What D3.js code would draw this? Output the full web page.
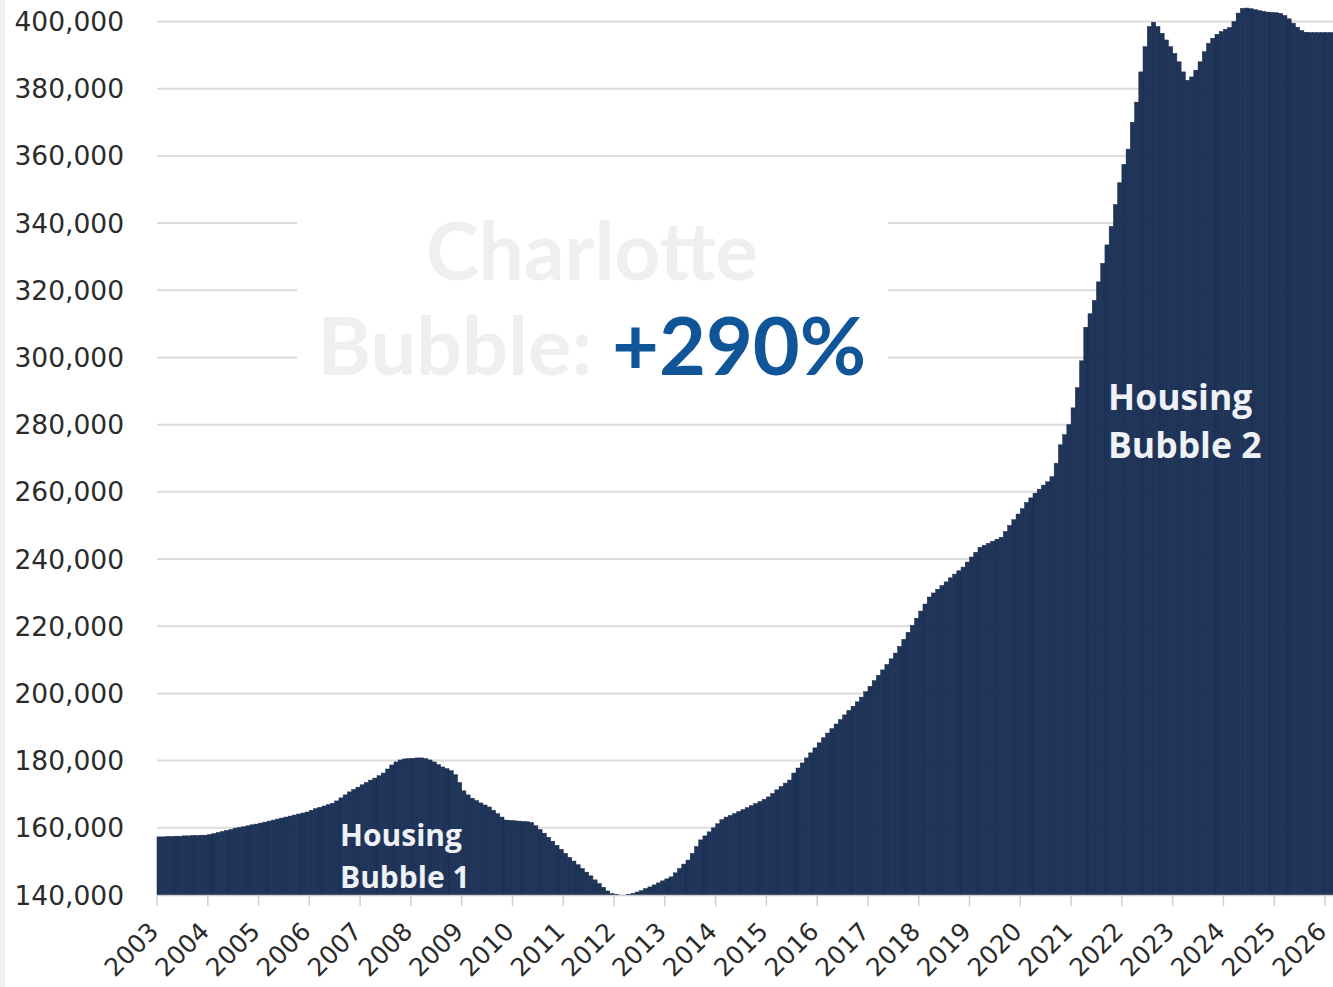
<!DOCTYPE html>
<html>
<head>
<meta charset="utf-8">
<script src="https://cdn.jsdelivr.net/npm/d3@7/dist/d3.min.js"></script>
<style>
  html, body { margin: 0; padding: 0; background: #ffffff; }
  svg { display: block; }
</style>
</head>
<body>
<svg id="chart" width="1333" height="987"></svg>
<script>
// Monthly median values (thousands), Jan 2003 .. Feb 2026
const values2003 = [157.3,157.3,157.4,157.4,157.5,157.5,157.6,157.6,157.7,157.7,157.8,157.8];
const values2004 = [158.0,158.3,158.6,158.9,159.2,159.5,159.9,160.1,160.3,160.6,160.9,161.1];
const values2005 = [161.4,161.7,162.0,162.3,162.6,162.9,163.2,163.5,163.8,164.1,164.4,164.7];
const values2006 = [165.2,165.7,166.1,166.5,166.9,167.3,168.0,168.9,169.8,170.7,171.4,172.1];
const values2007 = [172.8,173.5,174.2,174.8,175.5,176.3,177.5,178.7,179.6,180.2,180.5,180.6];
const values2008 = [180.7,180.8,180.8,180.6,180.2,179.6,178.8,178.1,177.6,177.0,175.8,173.5];
const values2009 = [171.0,169.8,168.8,168.1,167.4,166.8,166.2,165.2,164.2,163.2,162.3,162.2];
const values2010 = [162.1,162.0,161.9,161.8,161.6,160.6,159.5,158.4,157.2,156.0,154.8,153.6];
const values2011 = [152.4,151.2,150.1,149.0,147.9,146.8,145.7,144.5,143.4,142.3,141.2,140.4];
const values2012 = [140.2,140.0,140.0,140.2,140.5,140.9,141.3,141.9,142.4,143.0,143.6,144.2];
const values2013 = [144.8,145.4,146.6,147.9,149.2,150.4,152.4,154.4,156.4,157.6,158.8,160.0];
const values2014 = [161.2,162.4,163.2,163.7,164.2,164.8,165.4,166.0,166.6,167.2,167.8,168.5];
const values2015 = [169.2,170.2,171.3,172.3,173.3,174.2,176.3,177.8,179.3,180.8,182.3,183.8];
const values2016 = [185.3,186.8,188.2,189.5,190.9,192.2,193.6,194.9,196.2,197.5,198.9,200.5];
const values2017 = [202.1,203.8,205.4,207.0,208.6,210.3,212.0,214.0,216.1,218.2,220.3,222.4];
const values2018 = [224.5,226.6,228.7,229.9,231.0,232.1,233.2,234.4,235.5,236.5,237.6,239.1];
const values2019 = [240.6,242.0,243.5,244.1,244.7,245.3,245.9,246.5,248.2,250.0,251.7,253.4];
const values2020 = [255.0,256.8,258.2,259.6,260.8,262.0,263.0,264.5,268.5,274.0,277.0,280.0];
const values2021 = [285.0,291.0,299.0,309.0,313.0,317.0,322.5,328.0,333.5,339.0,345.5,352.0];
const values2022 = [357.5,362.0,370.0,376.0,385.0,392.5,398.5,399.8,398.5,396.5,394.5,392.5];
const values2023 = [390.5,388.0,385.0,382.5,383.5,385.5,388.0,391.0,393.5,395.0,396.2,397.0];
const values2024 = [397.7,398.2,400.0,402.5,403.9,404.0,403.8,403.5,403.2,403.0,402.8,402.7];
const values2025 = [402.6,402.4,401.8,400.8,399.5,398.3,397.3,396.8,396.7,396.7,396.7,396.7];
const values2026 = [396.7,396.7];

const yearLabels = ["2003","2004","2005","2006","2007","2008","2009","2010","2011","2012","2013","2014",
                    "2015","2016","2017","2018","2019","2020","2021","2022","2023","2024","2025","2026"];
const yTicks = [140000,160000,180000,200000,220000,240000,260000,280000,300000,320000,340000,360000,380000,400000];

const titleLine1 = "Charlotte";
const titleLine2a = "Bubble: ";
const titleLine2b = "+290%";
const label1 = ["Housing", "Bubble 1"];
const label2 = ["Housing", "Bubble 2"];

const monthly = [].concat(values2003, values2004, values2005, values2006, values2007, values2008,
  values2009, values2010, values2011, values2012, values2013, values2014, values2015, values2016,
  values2017, values2018, values2019, values2020, values2021, values2022, values2023, values2024,
  values2025, values2026).map(v => v * 1000);

const svg = d3.select("#chart");

const x = d3.scaleLinear().domain([0, 23 * 12]).range([157, 1325]);
const y = d3.scaleLinear().domain([140000, 400000]).range([895, 21.5]);

// left edge shading
svg.append("rect").attr("x", 0).attr("y", 0).attr("width", 5).attr("height", 987).attr("fill", "#f0f0f0");

// gridlines
svg.append("g").selectAll("line").data(yTicks).join("line")
  .attr("x1", 157).attr("x2", 1333)
  .attr("y1", d => y(d)).attr("y2", d => y(d))
  .attr("stroke", "#dcdcdc").attr("stroke-width", 2);

// y labels
svg.append("g").selectAll("text").data(yTicks).join("text")
  .attr("x", 124).attr("y", d => y(d)).attr("dy", "0.36em")
  .attr("text-anchor", "end")
  .attr("font-family", "DejaVu Sans, Verdana, sans-serif")
  .attr("font-size", 26.5).attr("fill", "#2b2b2b")
  .text(d => d3.format(",")(d));

// white box behind the title
svg.append("rect").attr("x", 297).attr("y", 198).attr("width", 591).attr("height", 194).attr("fill", "#ffffff");

// bars
svg.append("g").selectAll("rect").data(monthly).join("rect")
  .attr("x", (d, i) => x(i))
  .attr("width", (d, i) => x(i + 1) - x(i))
  .attr("y", d => y(d))
  .attr("height", d => y(140000) - y(d))
  .attr("fill", "#1f3459")
  .attr("stroke", "#18284a").attr("stroke-width", 0.5);

// x axis baseline + ticks
svg.append("line").attr("x1", 157).attr("x2", 1333).attr("y1", 895.5).attr("y2", 895.5)
  .attr("stroke", "#d0d0d0").attr("stroke-width", 1.5);
svg.append("g").selectAll("line").data(yearLabels).join("line")
  .attr("x1", (d, i) => x(i * 12)).attr("x2", (d, i) => x(i * 12))
  .attr("y1", 896).attr("y2", 906)
  .attr("stroke", "#d0d0d0").attr("stroke-width", 1.5);
svg.append("g").selectAll("text").data(yearLabels).join("text")
  .attr("transform", (d, i) => `translate(${x(i * 12) + 3},${933}) rotate(-45)`)
  .attr("text-anchor", "end")
  .attr("font-family", "DejaVu Sans, Verdana, sans-serif")
  .attr("font-size", 25).attr("fill", "#2b2b2b")
  .text(d => d);

// title
const tfont = "Lato, 'Open Sans', sans-serif";
svg.append("text").attr("x", 592).attr("y", 280).attr("text-anchor", "middle")
  .attr("font-family", tfont).attr("font-weight", 700).attr("font-size", 80)
  .attr("fill", "#efefef").text(titleLine1);
const t2 = svg.append("text").attr("x", 592).attr("y", 375).attr("text-anchor", "middle")
  .attr("font-family", tfont).attr("font-weight", 700).attr("font-size", 81);
t2.append("tspan").attr("fill", "#efefef").text(titleLine2a);
t2.append("tspan").attr("fill", "#0f5598").text(titleLine2b);

// annotations
const afont = "'Open Sans', sans-serif";
svg.append("g").selectAll("text").data(label1).join("text")
  .attr("x", 340).attr("y", (d, i) => 846 + i * 42)
  .attr("font-family", afont).attr("font-weight", 700).attr("font-size", 30)
  .attr("fill", "#eef1f6").text(d => d);
svg.append("g").selectAll("text").data(label2).join("text")
  .attr("x", 1108).attr("y", (d, i) => 410 + i * 48)
  .attr("font-family", afont).attr("font-weight", 700).attr("font-size", 35.5)
  .attr("fill", "#eef1f6").text(d => d);
</script>
</body>
</html>
